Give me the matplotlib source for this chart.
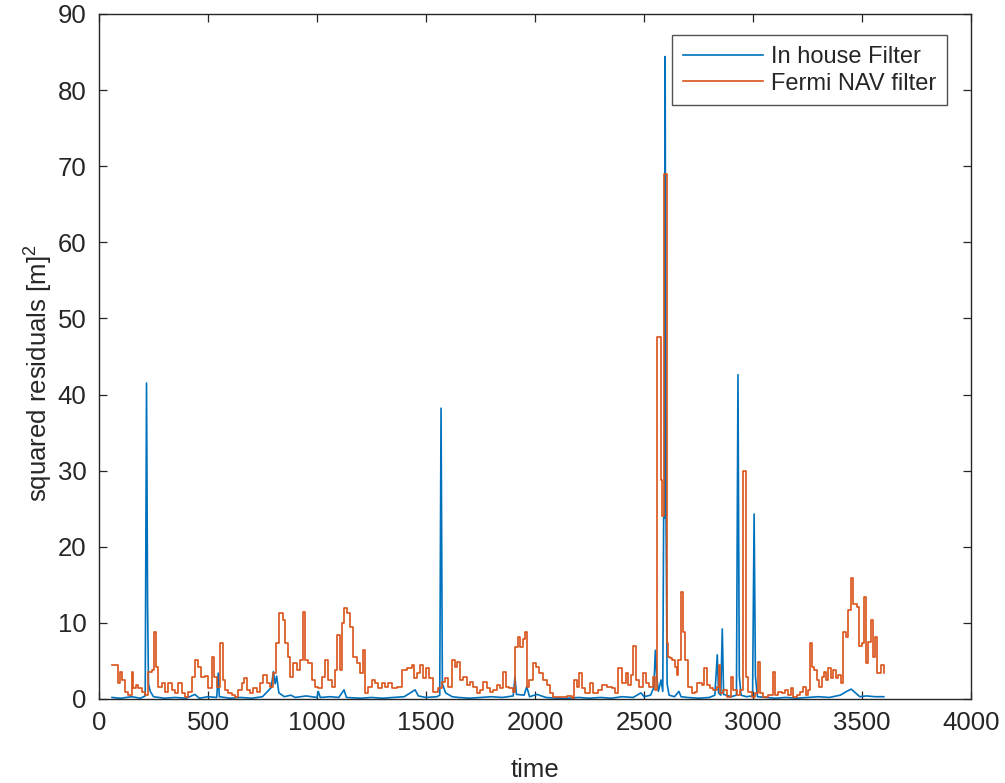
import matplotlib
matplotlib.use("Agg")
import matplotlib.pyplot as plt
import numpy as np

plt.rcParams['font.family'] = ['Liberation Sans', 'DejaVu Sans']
plt.rcParams['mathtext.fontset'] = 'custom'
plt.rcParams['mathtext.rm'] = 'Liberation Sans'
plt.rcParams['mathtext.it'] = 'Liberation Sans:italic'

# ---- data -------------------------------------------------------------
# In-house filter squared residuals
inhouse_t = [60, 100, 150, 190, 212, 218, 223, 227, 235, 250,
             300, 350, 400, 440, 460, 500, 540, 547, 552, 600,
             650, 700, 750, 790, 800, 808, 815, 825, 850, 880,
             900, 950, 1000, 1006, 1015, 1060, 1100, 1124, 1135, 1200,
             1250, 1300, 1350, 1400, 1450, 1465, 1500, 1550, 1563, 1569,
             1575, 1590, 1620, 1650, 1700, 1750, 1800, 1850, 1900, 1908,
             1915, 1950, 1962, 1975, 2009, 2050, 2100, 2150, 2200, 2250,
             2300, 2350, 2400, 2450, 2486, 2500, 2530, 2545, 2552, 2558,
             2566, 2578, 2586, 2590, 2594, 2597, 2601, 2606, 2615, 2640,
             2660, 2670, 2700, 2750, 2800, 2825, 2836, 2842, 2852, 2859,
             2865, 2900, 2924, 2931, 2937, 2945, 2970, 2998, 3005, 3011,
             3020, 3060, 3100, 3150, 3200, 3250, 3300, 3350, 3400, 3430,
             3450, 3470, 3490, 3520, 3560, 3600]
inhouse_v = [0.2, 0.1, 0.3, 0.1, 0.4, 41.5, 12.0, 2.0, 1.0, 0.3,
             0.1, 0.2, 0.1, 0.6, 0.1, 0.3, 0.2, 3.4, 0.3, 0.1,
             0.2, 0.1, 0.3, 1.5, 3.6, 2.0, 3.0, 0.8, 0.3, 0.5,
             0.2, 0.4, 0.2, 1.0, 0.2, 0.3, 0.2, 1.2, 0.2, 0.1,
             0.2, 0.1, 0.2, 0.3, 1.2, 0.4, 0.2, 0.3, 0.5, 38.2,
             2.0, 0.8, 0.3, 0.2, 0.1, 0.2, 0.3, 0.2, 0.4, 2.9,
             0.6, 0.5, 1.6, 0.3, 0.6, 0.2, 0.1, 0.1, 0.2, 0.1,
             0.2, 0.1, 0.3, 0.2, 0.8, 0.3, 0.5, 1.5, 6.4, 3.0,
             1.0, 2.5, 1.0, 23.8, 23.8, 84.4, 23.8, 2.0, 0.5, 0.3,
             1.0, 0.3, 0.2, 0.1, 0.2, 0.5, 5.8, 0.8, 0.5, 9.2,
             0.6, 0.3, 0.5, 42.6, 3.0, 0.5, 0.3, 0.4, 24.3, 3.0,
             0.3, 0.2, 0.1, 0.2, 0.1, 0.2, 0.3, 0.2, 0.5, 1.0,
             1.3, 0.8, 0.3, 0.4, 0.3, 0.3]

# Fermi NAV filter squared residuals (held values)
fermi_t = [60, 73, 89, 96, 107, 119, 135, 150, 158, 168,
           180, 196, 211, 226, 242, 254, 262, 272, 288, 303,
           318, 333, 349, 364, 379, 395, 410, 425, 440, 456,
           468, 486, 502, 517, 528, 540, 555, 567, 578, 593,
           609, 624, 639, 655, 665, 677, 693, 708, 723, 739,
           754, 769, 784, 800, 812, 827, 843, 853, 869, 876,
           891, 907, 922, 934, 945, 960, 976, 991, 1006, 1021,
           1037, 1052, 1067, 1083, 1093, 1106, 1113, 1124, 1139, 1151,
           1167, 1182, 1197, 1210, 1220, 1236, 1251, 1266, 1281, 1297,
           1312, 1327, 1343, 1365, 1388, 1411, 1434, 1445, 1457, 1472,
           1485, 1500, 1515, 1534, 1557, 1573, 1587, 1602, 1618, 1633,
           1644, 1656, 1671, 1687, 1702, 1717, 1732, 1748, 1763, 1778,
           1794, 1809, 1824, 1839, 1855, 1867, 1882, 1898, 1908, 1924,
           1931, 1943, 1954, 1962, 1974, 1989, 2005, 2020, 2038, 2054,
           2069, 2084, 2115, 2145, 2168, 2179, 2191, 2203, 2214, 2229,
           2252, 2268, 2291, 2306, 2329, 2352, 2367, 2382, 2398, 2417,
           2428, 2439, 2451, 2463, 2479, 2494, 2509, 2525, 2540, 2550,
           2558, 2576, 2584, 2591, 2604, 2611, 2619, 2627, 2642, 2650,
           2657, 2668, 2680, 2688, 2703, 2719, 2734, 2745, 2765, 2777,
           2787, 2803, 2818, 2833, 2843, 2849, 2864, 2879, 2898, 2910,
           2925, 2940, 2952, 2970, 2979, 2994, 3009, 3021, 3032, 3047,
           3070, 3090, 3101, 3116, 3131, 3147, 3162, 3173, 3185, 3200,
           3216, 3231, 3242, 3254, 3261, 3271, 3280, 3292, 3304, 3315,
           3326, 3335, 3346, 3356, 3368, 3379, 3391, 3402, 3414, 3425,
           3437, 3450, 3460, 3476, 3488, 3498, 3509, 3518, 3529, 3540,
           3549, 3560, 3570, 3586, 3600]
fermi_v = [4.5, 4.47, 2.06, 3.59, 2.5, 0.96, 0.53, 3.59, 1.4, 1.84,
           1.4, 0.96, 0.53, 3.59, 3.81, 8.85, 4.25, 1.62, 2.06, 0.96,
           2.06, 1.18, 0.74, 2.06, 0.74, 0.31, 0.96, 2.94, 5.12, 4.25,
           2.94, 3.0, 1.4, 5.56, 2.94, 1.62, 7.32, 2.5, 1.18, 0.74,
           0.53, 0.31, 1.18, 2.06, 2.72, 1.18, 0.74, 1.4, 0.96, 2.06,
           3.15, 2.06, 1.62, 3.37, 7.32, 11.26, 10.38, 7.32, 5.56, 2.94,
           4.69, 3.81, 5.12, 11.48, 5.12, 4.69, 2.5, 1.62, 1.4, 2.94,
           5.12, 2.5, 1.62, 3.81, 8.41, 3.81, 9.94, 11.91, 11.26, 9.5,
           5.56, 4.69, 3.37, 6.44, 0.74, 1.62, 2.5, 2.06, 1.4, 2.06,
           1.62, 2.06, 1.4, 1.62, 3.81, 4.03, 4.47, 2.72, 3.37, 4.47,
           2.72, 4.03, 2.72, 0.96, 1.4, 2.2, 2.72, 1.62, 5.12, 4.25,
           4.91, 2.5, 2.94, 1.84, 2.28, 1.62, 0.74, 1.18, 2.28, 1.4,
           0.96, 1.18, 1.84, 1.4, 3.59, 1.62, 1.4, 0.96, 6.79, 8.1,
           6.79, 7.88, 8.85, 1.62, 2.5, 4.69, 4.25, 3.37, 2.5, 1.84,
           0.74, 0.31, 0.31, 0.4, 0.09, 2.5, 1.62, 3.37, 1.4, 0.74,
           2.06, 0.74, 1.18, 1.84, 1.62, 1.4, 0.74, 4.03, 2.06, 3.37,
           1.84, 3.15, 6.94, 2.5, 1.62, 3.37, 2.06, 1.62, 2.94, 1.18,
           47.6, 28.8, 24.0, 69.0, 7.3, 5.56, 5.4, 5.12, 4.25, 3.15,
           5.12, 14.1, 8.85, 5.12, 1.62, 0.74, 0.96, 2.06, 1.84, 4.03,
           1.84, 1.4, 1.18, 1.62, 4.47, 0.74, 1.18, 0.31, 2.94, 1.18,
           0.53, 1.18, 30.0, 2.94, 0.96, 0.31, 0.74, 4.91, 0.74, 0.31,
           0.53, 3.59, 0.53, 0.96, 0.74, 1.18, 0.53, 1.4, 0.31, 0.53,
           0.96, 1.62, 0.53, 1.18, 7.32, 4.25, 3.81, 2.5, 1.62, 2.94,
           3.59, 2.5, 4.03, 2.72, 3.81, 2.72, 3.15, 2.06, 8.85, 8.1,
           11.7, 15.87, 12.5, 12.1, 6.94, 7.32, 13.4, 4.69, 7.5, 10.38,
           5.56, 8.2, 3.37, 4.47, 3.37]

x_ticks = [0, 500, 1000, 1500, 2000, 2500, 3000, 3500, 4000]
y_ticks = [0, 10, 20, 30, 40, 50, 60, 70, 80, 90]

# ---- figure -----------------------------------------------------------
text_color = '#262626'
blue = '#0072BD'
orange = '#D95319'

fig = plt.figure(figsize=(10.05, 7.83), dpi=100)
ax = fig.add_axes([0.0985, 0.1073, 0.8677, 0.8749])

ax.plot(inhouse_t, inhouse_v, color=blue, lw=1.2, label='In house Filter')
ax.plot(fermi_t, fermi_v, color=orange, lw=1.2, drawstyle='steps-post',
        label='Fermi NAV filter')

ax.set_xlim(0, 4000)
ax.set_ylim(0, 90)
ax.set_xticks(x_ticks)
ax.set_yticks(y_ticks)

ax.tick_params(direction='in', length=6, width=0.9, top=True, right=True,
               labelsize=18.5, colors=text_color, pad=9)
for side in ax.spines.values():
    side.set_color(text_color)
    side.set_linewidth(1.0)

ax.set_xlabel('time', fontsize=18.5, color=text_color, labelpad=16)
ax.set_ylabel('squared residuals [m]$^2$', fontsize=18.5, color=text_color)
ax.yaxis.set_label_coords(-0.05, 0.475)

leg = ax.legend(loc='upper right', bbox_to_anchor=(0.9725, 0.969),
                borderaxespad=0, fontsize=17, frameon=True, fancybox=False,
                handlelength=3.4, handletextpad=0.35, borderpad=0.45,
                labelspacing=0.2)
leg.get_frame().set_edgecolor(text_color)
leg.get_frame().set_linewidth(1.0)
for t in leg.get_texts():
    t.set_color(text_color)

fig.savefig('out.png', dpi=100)
